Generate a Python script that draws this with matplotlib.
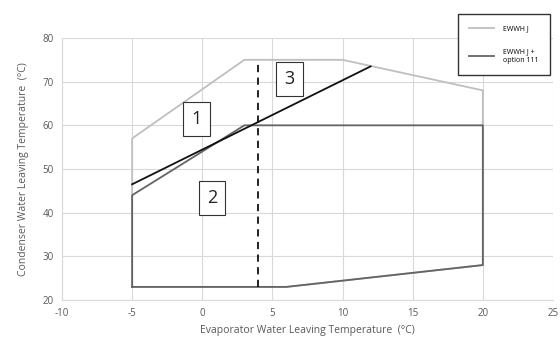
import matplotlib
matplotlib.use("Agg")
import matplotlib.pyplot as plt

plt.rcParams["font.family"] = ["Open Sans", "DejaVu Sans"]
plt.rcParams["axes.unicode_minus"] = False

# EWWH J envelope (light grey)
env_x = [-5, -5, 3, 10, 20, 20, 6, -5]
env_y = [23, 57, 75, 75, 68, 28, 23, 23]
# EWWH J + option 111 envelope (dark grey)
opt_x = [-5, -5, 3, 20, 20, 6, -5]
opt_y = [23, 44, 60, 60, 28, 23, 23]
# black limit line
lim_x = [-5, 12]
lim_y = [46.5, 73.5]
# dashed vertical line
dash_x = [4, 4]
dash_y = [23, 75]
# zone labels
zone_txt = ["1", "2", "3"]
zone_x = [-0.4, 0.7, 6.2]
zone_y = [61.5, 43.4, 70.6]

fig = plt.figure(figsize=(5.6, 3.38), dpi=100)
ax = fig.add_axes([62/560, 1-300/338, (553-62)/560, (300-38)/338])

ax.plot(env_x, env_y, color="#bfbfbf", lw=1.3, zorder=2, label="EWWH J")
ax.plot(opt_x, opt_y, color="#646464", lw=1.3, zorder=3, label="EWWH J +\noption 111")
ax.plot(lim_x, lim_y, color="#111111", lw=1.3, zorder=4)
ax.plot(dash_x, dash_y, color="#111111", lw=1.3, ls=(0, (4, 3)), zorder=4)

for t, x, y in zip(zone_txt, zone_x, zone_y):
    ax.text(x, y, t, fontsize=13, ha="center", va="center", color="#222222", zorder=5,
            bbox=dict(boxstyle="square,pad=0.45", fc="white", ec="#333333", lw=0.8))

ax.set_xlim(-10, 25)
ax.set_ylim(20, 80)
ax.set_xticks(range(-10, 26, 5))
ax.set_yticks(range(20, 81, 10))
ax.grid(True, color="#d9d9d9", lw=0.8)
ax.set_axisbelow(True)
for s in ax.spines.values():
    s.set_visible(False)
ax.spines["left"].set_visible(True)
ax.spines["bottom"].set_visible(True)
ax.spines["left"].set_color("#d9d9d9")
ax.spines["bottom"].set_color("#d9d9d9")
ax.tick_params(length=0, labelsize=7, colors="#595959", pad=6)

ax.set_xlabel("Evaporator Water Leaving Temperature  (°C)", fontsize=7.5, color="#595959", labelpad=4)
ax.set_ylabel("Condenser Water Leaving Temperature  (°C)", fontsize=7.5, color="#595959", labelpad=10)

leg = fig.legend(loc="upper right", bbox_to_anchor=(553/560, 1-11/338), fontsize=5,
                 frameon=True, fancybox=False, edgecolor="#333333", framealpha=1,
                 handlelength=3.6, labelspacing=2.3, borderpad=1.6, handletextpad=1.3)
leg.get_frame().set_linewidth(1.0)

fig.savefig("out.png", dpi=100)
